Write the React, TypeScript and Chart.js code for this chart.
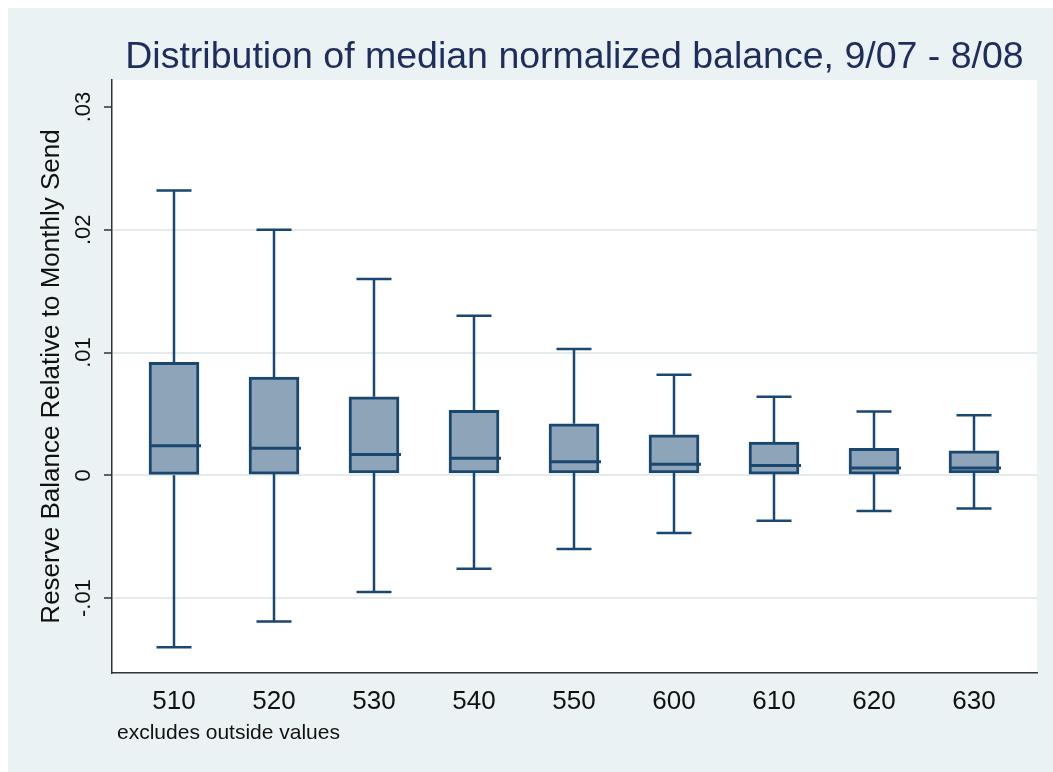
import React, { useEffect, useRef } from 'react';
import { Chart, registerables } from 'chart.js';

Chart.register(...registerables);

// ---- data ----
const categories = ['510', '520', '530', '540', '550', '600', '610', '620', '630'];
const whiskerHigh = [0.0232, 0.0200, 0.0160, 0.0130, 0.0103, 0.0082, 0.0064, 0.0052, 0.0049];
const upperQuartile = [0.0092, 0.0080, 0.0064, 0.0053, 0.0042, 0.0033, 0.0027, 0.0022, 0.0020];
const medians = [0.0024, 0.0022, 0.0017, 0.0014, 0.0011, 0.0009, 0.0008, 0.0006, 0.0006];
const lowerQuartile = [0.0000, 0.0001, 0.0002, 0.0002, 0.0002, 0.0002, 0.0001, 0.0001, 0.0002];
const whiskerLow = [-0.0140, -0.0119, -0.0095, -0.0076, -0.0060, -0.0047, -0.0037, -0.0029, -0.0027];
const yTickValues = [-0.01, 0, 0.01, 0.02, 0.03];
const yTickLabels = ['-.01', '0', '.01', '.02', '.03'];

const TITLE = 'Distribution of median normalized balance, 9/07 - 8/08';
const Y_TITLE = 'Reserve Balance Relative to Monthly Send';
const NOTE = 'excludes outside values';

// ---- styles ----
const FONT = "'Liberation Sans', Arial, Helvetica, sans-serif";
const NAVY = '#1A476F';
const FILL = '#8EA4B8';
const BG = '#EAF2F3';
const GRID = '#E3EBEE';
const AXIS = '#333333';
const TEXT = '#111111';
const TITLE_COLOR = '#1E2D5B';
const W = 1045;
const H = 764;

const boxPlugin = {
  id: 'boxWhiskers',
  beforeDraw(chart: any) {
    const { ctx, width, height, chartArea } = chart;
    ctx.save();
    ctx.fillStyle = BG;
    ctx.fillRect(0, 0, width, height);
    ctx.fillStyle = '#ffffff';
    ctx.fillRect(chartArea.left, chartArea.top, chartArea.right - chartArea.left, chartArea.bottom - chartArea.top);
    ctx.restore();
  },
  beforeDatasetsDraw(chart: any) {
    const { ctx } = chart;
    const xs = chart.scales.x;
    const ys = chart.scales.y;
    ctx.save();
    ctx.strokeStyle = NAVY;
    ctx.lineWidth = 2.5;
    categories.forEach((_, i) => {
      const px = xs.getPixelForValue(i);
      const hi = ys.getPixelForValue(whiskerHigh[i]);
      const q3 = ys.getPixelForValue(upperQuartile[i]);
      const q1 = ys.getPixelForValue(lowerQuartile[i]);
      const lo = ys.getPixelForValue(whiskerLow[i]);
      ctx.beginPath();
      ctx.moveTo(px, q3);
      ctx.lineTo(px, hi);
      ctx.moveTo(px - 17.5, hi);
      ctx.lineTo(px + 17.5, hi);
      ctx.moveTo(px, q1);
      ctx.lineTo(px, lo);
      ctx.moveTo(px - 17.5, lo);
      ctx.lineTo(px + 17.5, lo);
      ctx.stroke();
    });
    ctx.restore();
  },
  afterDatasetsDraw(chart: any) {
    const { ctx } = chart;
    const xs = chart.scales.x;
    const ys = chart.scales.y;
    ctx.save();
    ctx.strokeStyle = NAVY;
    ctx.lineWidth = 3;
    categories.forEach((_, i) => {
      const px = xs.getPixelForValue(i);
      const m = ys.getPixelForValue(medians[i]);
      ctx.beginPath();
      ctx.moveTo(px - 25, m);
      ctx.lineTo(px + 27, m);
      ctx.stroke();
    });
    ctx.restore();
  },
  afterDraw(chart: any) {
    const { ctx, chartArea, height } = chart;
    ctx.save();
    ctx.font = `21px ${FONT}`;
    ctx.fillStyle = TEXT;
    ctx.textAlign = 'left';
    ctx.textBaseline = 'middle';
    ctx.fillText(NOTE, chartArea.left + 5, height - 39);
    ctx.restore();
  },
};

export default function App() {
  const canvasRef = useRef<HTMLCanvasElement | null>(null);

  useEffect(() => {
    if (!canvasRef.current) return;
    const chart = new Chart(canvasRef.current, {
      type: 'bar',
      data: {
        datasets: [
          {
            data: categories.map((_, i) => ({ x: i, y: [lowerQuartile[i], upperQuartile[i]] })) as any,
            backgroundColor: FILL,
            borderColor: NAVY,
            borderWidth: 3,
            borderSkipped: false,
            barThickness: 50,
          },
        ],
      },
      options: {
        animation: false,
        responsive: false,
        devicePixelRatio: 1,
        layout: { padding: { left: 0, right: 16, top: 0, bottom: 52.6 } },
        plugins: {
          legend: { display: false },
          tooltip: { enabled: false },
          title: {
            display: true,
            text: TITLE,
            color: TITLE_COLOR,
            fullSize: false,
            font: { family: FONT, size: 37.5, weight: 'normal' },
            padding: { top: 27, bottom: 0 },
          },
        },
        scales: {
          x: {
            type: 'linear',
            min: -0.62,
            max: 8.63,
            offset: false,
            grid: { drawOnChartArea: false, drawTicks: false },
            border: { display: true, color: AXIS, width: 1.5 },
            ticks: {
              padding: 13,
              color: TEXT,
              autoSkip: false,
              minRotation: 0,
              maxRotation: 0,
              font: { family: FONT, size: 26 },
              callback: (v: any) => categories[Number(v)] ?? '',
            },
            afterBuildTicks: (s: any) => {
              s.ticks = categories.map((_, i) => ({ value: i }));
            },
            afterFit: (s: any) => {
              s.height = 46.4;
            },
          },
          y: {
            type: 'linear',
            min: -0.0161,
            max: 0.0322,
            grid: {
              color: (c: any) => (c.tick && c.tick.value > 0.025 ? 'rgba(0,0,0,0)' : GRID),
              lineWidth: 2,
              tickLength: 8,
              tickColor: AXIS,
              tickWidth: 1.5,
            },
            border: { display: true, color: AXIS, width: 1.5 },
            ticks: {
              minRotation: 90,
              maxRotation: 90,
              crossAlign: 'center',
              padding: 1.5,
              color: TEXT,
              font: { family: FONT, size: 22 },
              callback: (v: any) => {
                const idx = yTickValues.findIndex((t) => Math.abs(t - Number(v)) < 1e-9);
                return idx >= 0 ? yTickLabels[idx] : '';
              },
            },
            afterBuildTicks: (s: any) => {
              s.ticks = yTickValues.map((v) => ({ value: v }));
            },
            title: {
              display: true,
              text: Y_TITLE,
              color: TEXT,
              font: { family: FONT, size: 26 },
              padding: { top: 28.4, bottom: 0 },
            },
            afterFit: (s: any) => {
              s.width = 104;
            },
          },
        },
      } as any,
      plugins: [boxPlugin],
    });
    return () => chart.destroy();
  }, []);

  return (
    <div style={{ position: 'fixed', left: 8, top: 8, right: 0, bottom: 0, background: BG, overflow: 'hidden' }}>
      <canvas ref={canvasRef} width={W} height={H} style={{ width: W, height: H, display: 'block' }} />
    </div>
  );
}
